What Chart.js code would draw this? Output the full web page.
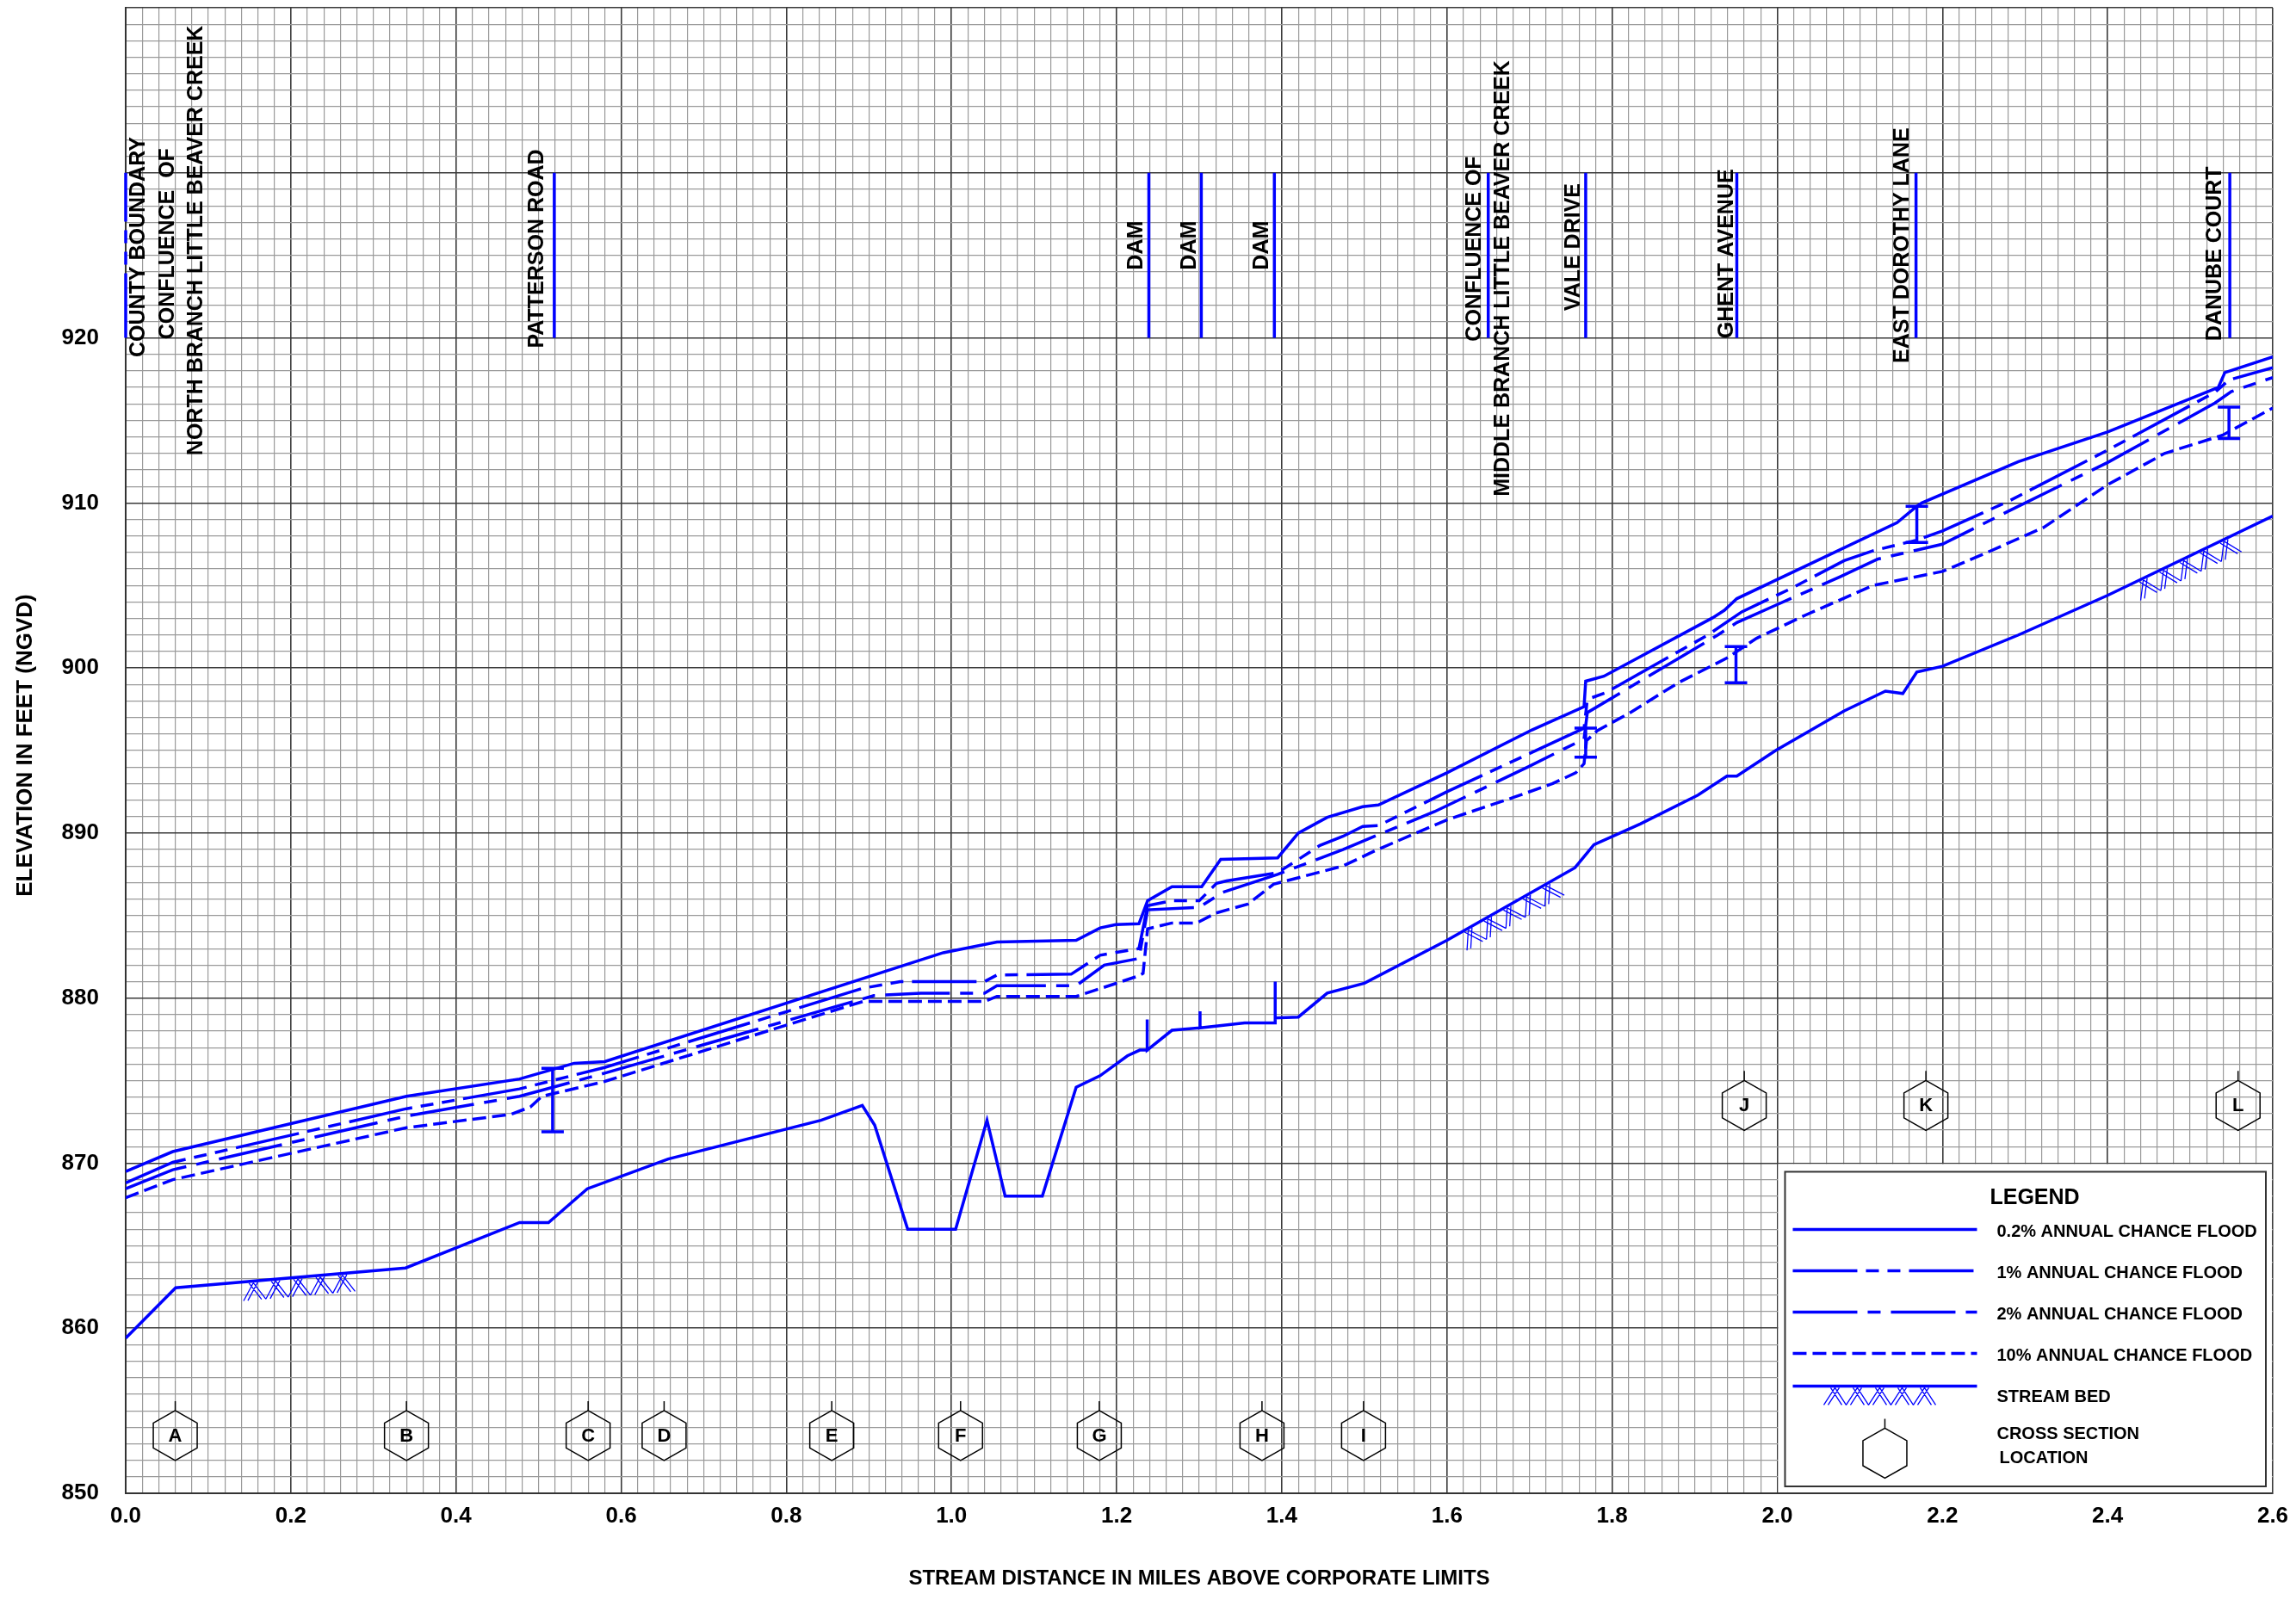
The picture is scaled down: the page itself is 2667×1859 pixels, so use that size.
<!DOCTYPE html>
<html>
<head>
<meta charset="utf-8">
<title>Flood profile</title>
<script src="https://cdn.jsdelivr.net/npm/chart.js@4.4.1/dist/chart.umd.min.js"></script>
<style>
  html, body { margin: 0; padding: 0; background: #fff; }
  canvas { display: block; }
</style>
</head>
<body>
<canvas id="profile" width="2667" height="1859"></canvas>
<script>
// stream distance (miles) and elevation (ft NGVD)
var miles02 = [0, 0.057, 0.34, 0.477, 0.543, 0.58, 0.99, 1.055, 1.151, 1.18, 1.199, 1.227, 1.2375, 1.267, 1.303, 1.326, 1.395, 1.42, 1.455, 1.498, 1.517, 1.6, 1.703, 1.766, 1.768, 1.79, 1.922, 1.936, 1.951, 2.145, 2.169, 2.175, 2.292, 2.4, 2.534, 2.542, 2.6];
var elev02  = [869.5, 870.7, 874.05, 875.1, 876.05, 876.15, 882.75, 883.4, 883.5, 884.25, 884.45, 884.5, 885.9, 886.75, 886.75, 888.4, 888.5, 890.0, 890.95, 891.6, 891.7, 893.65, 896.25, 897.65, 899.2, 899.5, 903.05, 903.5, 904.2, 908.8, 909.8, 910.0, 912.5, 914.3, 917.0, 917.9, 918.85];

var miles1 = [0, 0.057, 0.34, 0.477, 0.58, 0.893, 0.938, 1.04, 1.055, 1.145, 1.18, 1.227, 1.2375, 1.267, 1.3, 1.321, 1.333, 1.395, 1.42, 1.446, 1.474, 1.498, 1.517, 1.6, 1.766, 1.77, 1.792, 1.916, 1.957, 2.016, 2.081, 2.116, 2.169, 2.2, 2.28, 2.4, 2.53, 2.547, 2.6];
var elev1  = [868.8, 870.05, 873.3, 874.5, 875.8, 880.6, 881.0, 881.0, 881.4, 881.45, 882.6, 883.0, 885.6, 885.9, 885.9, 886.95, 887.1, 887.6, 888.4, 889.25, 889.8, 890.4, 890.45, 892.5, 896.35, 898.1, 898.5, 902.0, 903.4, 904.8, 906.5, 907.1, 907.75, 908.3, 910.1, 913.2, 916.7, 917.45, 918.2];

var miles2 = [0, 0.057, 0.34, 0.477, 0.58, 0.906, 0.963, 1.04, 1.055, 1.151, 1.185, 1.227, 1.2375, 1.3, 1.328, 1.395, 1.474, 1.517, 1.585, 1.698, 1.766, 1.77, 1.928, 1.951, 1.998, 2.075, 2.122, 2.2, 2.28, 2.4, 2.53, 2.55, 2.6];
var elev2  = [868.45, 869.6, 872.85, 874.05, 875.45, 880.15, 880.3, 880.3, 880.75, 880.75, 882.0, 882.4, 885.35, 885.5, 886.4, 887.5, 889.0, 889.9, 891.3, 894.0, 895.7, 897.3, 902.0, 902.75, 903.8, 905.5, 906.6, 907.5, 909.5, 912.45, 916.05, 916.75, 917.6];

var miles10 = [0, 0.057, 0.34, 0.466, 0.49, 0.504, 0.58, 0.893, 1.04, 1.055, 1.151, 1.227, 1.232, 1.2375, 1.267, 1.297, 1.32, 1.359, 1.39, 1.474, 1.516, 1.6, 1.683, 1.728, 1.756, 1.766, 1.769, 1.782, 1.822, 1.88, 1.939, 1.975, 2.034, 2.116, 2.2, 2.245, 2.322, 2.4, 2.469, 2.539, 2.6];
var elev10  = [867.9, 869.0, 872.15, 872.95, 873.4, 874.05, 874.95, 879.8, 879.8, 880.1, 880.1, 881.35, 881.5, 884.2, 884.55, 884.55, 885.15, 885.7, 886.9, 888.0, 889.0, 890.8, 892.2, 893.0, 893.65, 894.2, 895.6, 896.2, 897.3, 899.1, 900.6, 901.8, 903.2, 905.0, 905.85, 906.8, 908.5, 911.1, 913.0, 914.1, 915.75];

// stream bed, the three spikes are the dams
var bedMiles = [0, 0.0605, 0.339, 0.477, 0.512, 0.559, 0.657, 0.842, 0.892, 0.907, 0.947, 1.005, 1.043, 1.065, 1.11, 1.151, 1.18, 1.213, 1.228, 1.237, 1.237, 1.237, 1.267, 1.301, 1.301, 1.301, 1.355, 1.392, 1.392, 1.392, 1.42, 1.455, 1.5, 1.6, 1.755, 1.778, 1.834, 1.904, 1.939, 1.951, 1.998, 2.081, 2.131, 2.152, 2.169, 2.2, 2.292, 2.4, 2.6];
var bedElev  = [859.4, 862.45, 863.65, 866.4, 866.4, 868.45, 870.25, 872.6, 873.5, 872.3, 866.0, 866.0, 872.6, 868.0, 868.0, 874.6, 875.3, 876.5, 876.85, 876.85, 878.7, 876.85, 878.05, 878.2, 879.2, 878.2, 878.5, 878.5, 881.0, 878.8, 878.85, 880.3, 880.9, 883.5, 887.9, 889.3, 890.55, 892.3, 893.45, 893.45, 895.0, 897.4, 898.6, 898.45, 899.75, 900.1, 902.0, 904.4, 909.2];
var hatchFrom = [0.141, 1.614, 2.431];
var hatchTo   = [0.289, 1.747, 2.566];

// cross sections
var xsLetters = ['A', 'B', 'C', 'D', 'E', 'F', 'G', 'H', 'I', 'J', 'K', 'L'];
var xsMiles   = [0.06, 0.34, 0.56, 0.652, 0.855, 1.011, 1.179, 1.376, 1.499, 1.96, 2.18, 2.558];
var xsElev    = [853.5, 853.5, 853.5, 853.5, 853.5, 853.5, 853.5, 853.5, 853.5, 873.5, 873.5, 873.5];

// floodway brackets
var barMiles = [0.517, 1.768, 1.95, 2.169, 2.547];
var barLow   = [871.9, 894.6, 899.1, 907.6, 913.9];
var barHigh  = [875.75, 896.35, 901.3, 909.8, 915.8];

// roads / structures along the stream
var markMiles = [0, 0.519, 1.239, 1.3025, 1.391, 1.65, 1.768, 1.951, 2.168, 2.548];
var markLow = 920, markHigh = 930;
var noteText  = ['COUNTY BOUNDARY', 'CONFLUENCE  OF', 'NORTH BRANCH LITTLE BEAVER CREEK', 'PATTERSON ROAD', 'DAM', 'DAM', 'DAM', 'CONFLUENCE OF', 'MIDDLE BRANCH LITTLE BEAVER CREEK', 'VALE DRIVE', 'GHENT AVENUE', 'EAST DOROTHY LANE', 'DANUBE COURT'];
var noteMiles = [0.016, 0.0515, 0.086, 0.498, 1.2245, 1.289, 1.3766, 1.634, 1.668, 1.754, 1.939, 2.152, 2.53];
var noteElev  = [925.5, 925.7, 925.9, 925.4, 925.6, 925.6, 925.6, 925.4, 923.6, 925.5, 925.1, 925.6, 925.1];

var legendNames = ['0.2% ANNUAL CHANCE FLOOD', '1% ANNUAL CHANCE FLOOD', '2% ANNUAL CHANCE FLOOD', '10% ANNUAL CHANCE FLOOD', 'STREAM BED'];

var BLUE = '#0000ff';
var FONT = "'Liberation Sans', Arial, Helvetica, sans-serif";
var dash1 = [75, 10, 15, 10, 15, 10];
var dash2 = [75, 12, 15, 12];
var dash10 = [16, 7];

function pts(xs, ys) {
  return xs.map(function (v, i) { return { x: v, y: ys[i] }; });
}

function interp(xs, ys, v) {
  for (var i = 1; i < xs.length; i++) {
    if (v <= xs[i]) {
      var t = (v - xs[i - 1]) / ((xs[i] - xs[i - 1]) || 1);
      return ys[i - 1] + t * (ys[i] - ys[i - 1]);
    }
  }
  return ys[ys.length - 1];
}

function hatch(ctx, x0, y0, x1, y1) {
  var ang = Math.atan2(y1 - y0, x1 - x0);
  var len = Math.hypot(x1 - x0, y1 - y0);
  var unit = 26, depth = 20;
  ctx.save();
  ctx.translate(x0, y0 + 2);
  ctx.rotate(ang);
  ctx.strokeStyle = BLUE;
  ctx.lineWidth = 1.3;
  ctx.setLineDash([]);
  ctx.beginPath();
  for (var u = 0; u + unit <= len + 1; u += unit) {
    for (var off = 0; off <= 5; off += 5) {
      ctx.moveTo(u + off, depth);
      ctx.lineTo(u + unit / 2 + off, 0);
      ctx.moveTo(u + unit / 2 - off, 0);
      ctx.lineTo(u + unit - off, depth);
    }
  }
  ctx.stroke();
  ctx.restore();
}

function hexagon(ctx, cx, cy, letter) {
  var w = 51, h = 58;
  ctx.save();
  ctx.strokeStyle = '#000';
  ctx.lineWidth = 1.5;
  ctx.setLineDash([]);
  ctx.beginPath();
  ctx.moveTo(cx, cy - h / 2);
  ctx.lineTo(cx + w / 2, cy - h / 4);
  ctx.lineTo(cx + w / 2, cy + h / 4);
  ctx.lineTo(cx, cy + h / 2);
  ctx.lineTo(cx - w / 2, cy + h / 4);
  ctx.lineTo(cx - w / 2, cy - h / 4);
  ctx.closePath();
  ctx.moveTo(cx, cy - h / 2);
  ctx.lineTo(cx, cy - h / 2 - 11);
  ctx.stroke();
  if (letter) {
    ctx.fillStyle = '#000';
    ctx.font = 'bold 22px ' + FONT;
    ctx.textAlign = 'center';
    ctx.textBaseline = 'middle';
    ctx.fillText(letter, cx, cy + 1);
  }
  ctx.restore();
}

var overlay = {
  id: 'overlay',
  afterDatasetsDraw: function (chart) {
    var ctx = chart.ctx, x = chart.scales.x, y = chart.scales.y;
    var i;

    // structure lines and their names
    ctx.save();
    ctx.strokeStyle = BLUE;
    ctx.lineWidth = 3.5;
    for (i = 0; i < markMiles.length; i++) {
      ctx.setLineDash(i === 0 ? dash1 : []);
      ctx.beginPath();
      ctx.moveTo(x.getPixelForValue(markMiles[i]), y.getPixelForValue(markLow));
      ctx.lineTo(x.getPixelForValue(markMiles[i]), y.getPixelForValue(markHigh));
      ctx.stroke();
    }
    ctx.setLineDash([]);
    ctx.fillStyle = '#000';
    ctx.font = 'bold 25px ' + FONT;
    ctx.textAlign = 'center';
    ctx.textBaseline = 'middle';
    for (i = 0; i < noteText.length; i++) {
      ctx.save();
      ctx.translate(x.getPixelForValue(noteMiles[i]), y.getPixelForValue(noteElev[i]));
      ctx.rotate(-Math.PI / 2);
      ctx.fillText(noteText[i], 0, 0);
      ctx.restore();
    }
    ctx.restore();

    // floodway brackets
    ctx.save();
    ctx.strokeStyle = BLUE;
    ctx.lineWidth = 3.5;
    for (i = 0; i < barMiles.length; i++) {
      var bx = x.getPixelForValue(barMiles[i]);
      var lo = y.getPixelForValue(barLow[i]), hi = y.getPixelForValue(barHigh[i]);
      ctx.beginPath();
      ctx.moveTo(bx, lo); ctx.lineTo(bx, hi);
      ctx.moveTo(bx - 13, lo); ctx.lineTo(bx + 13, lo);
      ctx.moveTo(bx - 13, hi); ctx.lineTo(bx + 13, hi);
      ctx.stroke();
    }
    ctx.restore();

    // stream bed symbol
    for (i = 0; i < hatchFrom.length; i++) {
      hatch(ctx,
        x.getPixelForValue(hatchFrom[i]), y.getPixelForValue(interp(bedMiles, bedElev, hatchFrom[i])),
        x.getPixelForValue(hatchTo[i]), y.getPixelForValue(interp(bedMiles, bedElev, hatchTo[i])));
    }

    for (i = 0; i < xsLetters.length; i++) {
      hexagon(ctx, x.getPixelForValue(xsMiles[i]), y.getPixelForValue(xsElev[i]), xsLetters[i]);
    }

    // legend sits on the grid in the lower right corner
    var gl = x.getPixelForValue(2.0), gr = x.getPixelForValue(2.6);
    var gt = y.getPixelForValue(870), gb = y.getPixelForValue(850);
    ctx.save();
    ctx.fillStyle = '#fff';
    ctx.fillRect(gl + 1, gt + 1, gr - gl - 2, gb - gt - 2);
    var L = gl + 9, T = gt + 10, R = gr - 8, B = gb - 8;
    ctx.strokeStyle = '#333';
    ctx.lineWidth = 2;
    ctx.strokeRect(L, T, R - L, B - T);

    ctx.fillStyle = '#000';
    ctx.textAlign = 'left';
    ctx.textBaseline = 'middle';
    ctx.font = 'bold 25px ' + FONT;
    ctx.fillText('LEGEND', L + 238, T + 31);

    var rows = [67, 115, 163, 211, 249];
    var dashes = [[], dash1, dash2, dash10, []];
    ctx.strokeStyle = BLUE;
    ctx.lineWidth = 3.5;
    for (i = 0; i < rows.length; i++) {
      ctx.setLineDash(dashes[i]);
      ctx.beginPath();
      ctx.moveTo(L + 9, T + rows[i]);
      ctx.lineTo(L + 223, T + rows[i]);
      ctx.stroke();
    }
    ctx.setLineDash([]);
    ctx.restore();
    hatch(ctx, L + 45, T + 249, L + 189, T + 249);

    ctx.save();
    ctx.fillStyle = '#000';
    ctx.textAlign = 'left';
    ctx.textBaseline = 'middle';
    ctx.font = 'bold 20px ' + FONT;
    var textRows = [70, 118, 166, 214, 262];
    for (i = 0; i < legendNames.length; i++) {
      ctx.fillText(legendNames[i], L + 246, T + textRows[i]);
    }
    ctx.fillText('CROSS SECTION', L + 246, T + 305);
    ctx.fillText('LOCATION', L + 249, T + 333);
    ctx.restore();
    hexagon(ctx, L + 116, T + 327, '');
  },
  afterDraw: function (chart) {
    var ctx = chart.ctx, a = chart.chartArea;
    ctx.save();
    ctx.fillStyle = '#000';
    ctx.font = 'bold 24px ' + FONT;
    ctx.textAlign = 'center';
    ctx.textBaseline = 'middle';
    ctx.fillText('STREAM DISTANCE IN MILES ABOVE CORPORATE LIMITS', (a.left + a.right) / 2, 1834);
    ctx.font = 'bold 26px ' + FONT;
    ctx.translate(30, 866);
    ctx.rotate(-Math.PI / 2);
    ctx.fillText('ELEVATION IN FEET (NGVD)', 0, 0);
    ctx.restore();
  }
};

function majorX(v) { return Math.round(v * 100) % 20 === 0; }
function majorY(v) { return Math.round(v) % 10 === 0; }

Chart.defaults.font.family = FONT;

new Chart(document.getElementById('profile'), {
  type: 'line',
  data: {
    datasets: [
      { label: legendNames[0], data: pts(miles02, elev02), borderColor: BLUE, borderWidth: 3.5, pointRadius: 0, fill: false },
      { label: legendNames[1], data: pts(miles1, elev1), borderColor: BLUE, borderWidth: 3.5, borderDash: dash1, pointRadius: 0, fill: false },
      { label: legendNames[2], data: pts(miles2, elev2), borderColor: BLUE, borderWidth: 3.5, borderDash: dash2, pointRadius: 0, fill: false },
      { label: legendNames[3], data: pts(miles10, elev10), borderColor: BLUE, borderWidth: 3.5, borderDash: dash10, pointRadius: 0, fill: false },
      { label: legendNames[4], data: pts(bedMiles, bedElev), borderColor: BLUE, borderWidth: 3.5, pointRadius: 0, fill: false }
    ]
  },
  options: {
    responsive: false,
    animation: false,
    devicePixelRatio: 1,
    layout: { padding: { top: 9, right: 27, left: 0, bottom: 0 } },
    plugins: { legend: { display: false }, tooltip: { enabled: false } },
    scales: {
      x: {
        type: 'linear', min: 0, max: 2.6,
        afterFit: function (s) { s.height = 124; s.paddingLeft = 0; s.paddingRight = 0; },
        ticks: {
          stepSize: 0.02, autoSkip: false, maxTicksLimit: 1000, maxRotation: 0, minRotation: 0,
          padding: 11, color: '#000', font: { size: 26, weight: 'bold' },
          callback: function (v) { return majorX(v) ? v.toFixed(1) : ''; }
        },
        grid: {
          drawTicks: false,
          color: function (c) { return majorX(c.tick.value) ? '#3a3a3a' : '#9a9a9a'; },
          lineWidth: function (c) { return majorX(c.tick.value) ? 1.6 : 1.2; }
        },
        border: { display: true, color: '#333', width: 2 }
      },
      y: {
        type: 'linear', min: 850, max: 940,
        afterFit: function (s) { s.width = 146; s.paddingTop = 0; s.paddingBottom = 0; },
        ticks: {
          stepSize: 1, autoSkip: false, maxTicksLimit: 1000,
          padding: 31, color: '#000', font: { size: 26, weight: 'bold' },
          callback: function (v) { return (majorY(v) && v <= 920) ? String(v) : ''; }
        },
        grid: {
          drawTicks: false,
          color: function (c) { return majorY(c.tick.value) ? '#3a3a3a' : '#9a9a9a'; },
          lineWidth: function (c) { return majorY(c.tick.value) ? 1.6 : 1.2; }
        },
        border: { display: true, color: '#333', width: 2 }
      }
    }
  },
  plugins: [overlay]
});
</script>
</body>
</html>
